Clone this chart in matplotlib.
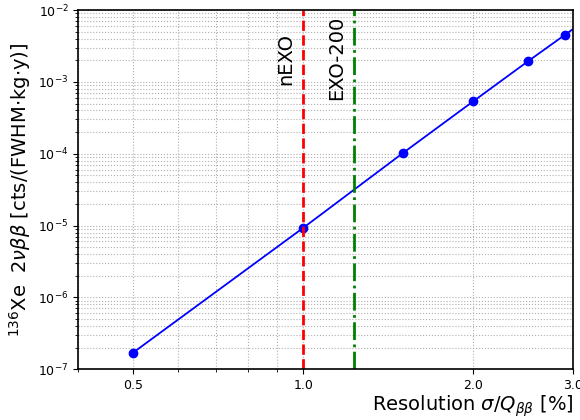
import numpy as np
import matplotlib.pyplot as plt
from matplotlib.ticker import FixedLocator, FixedFormatter, NullFormatter

# resolution [%] vs background counts
resolution = [0.5, 1.0, 1.5, 2.0, 2.5, 2.9, 3.5]
counts = [1.7e-7, 9.3e-6, 1.02e-4, 5.4e-4, 1.95e-3, 4.5e-3, 1.3e-2]

nexo_res = 1.0
exo200_res = 1.23

xticks = [0.5, 1.0, 2.0, 3.0]
xticklabels = ['0.5', '1.0', '2.0', '3.0']

fig = plt.figure(figsize=(5.8, 4.2), dpi=100)
ax = fig.add_axes([0.135, 0.121, 0.853, 0.855])

ax.plot(resolution, counts, color='blue', marker='o', markersize=6, linewidth=1.3)

ax.axvline(nexo_res, color='red', linestyle='--', linewidth=2)
ax.axvline(exo200_res, color='green', linestyle='-.', linewidth=2)

ax.set_xscale('log')
ax.set_yscale('log')
ax.set_xlim(0.4, 3.0)
ax.set_ylim(1e-7, 1e-2)

ax.xaxis.set_major_locator(FixedLocator(xticks))
ax.xaxis.set_major_formatter(FixedFormatter(xticklabels))
ax.xaxis.set_minor_formatter(NullFormatter())
ax.tick_params(axis='both', which='major', labelsize=9)

ax.grid(True, which='both', linestyle=':', color='#b0b0b0', linewidth=0.8)

ax.text(0.93, 9e-4, 'nEXO', rotation=90, fontsize=14, ha='center', va='bottom')
ax.text(1.145, 5.6e-4, 'EXO-200', rotation=90, fontsize=14, ha='center', va='bottom')

ax.set_xlabel(r'Resolution $\sigma/Q_{\beta\beta}$ [%]', fontsize=14, loc='right', labelpad=1)
ax.set_ylabel(r'$^{136}$Xe  $2\nu\beta\beta$ [cts/(FWHM$\cdot$kg$\cdot$y)]', fontsize=14)

for s in ax.spines.values():
    s.set_linewidth(1.2)

fig.savefig('out.png', dpi=100)
